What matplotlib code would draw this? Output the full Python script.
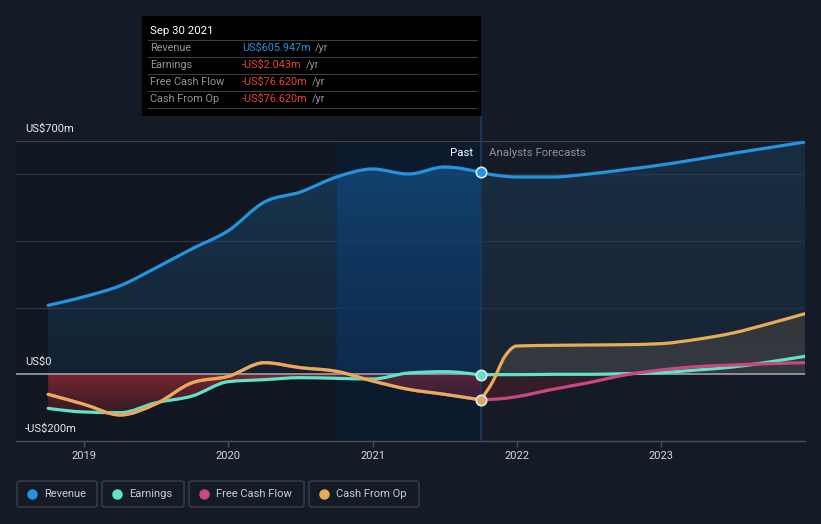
import numpy as np
import matplotlib.pyplot as plt
from matplotlib.patches import Rectangle, FancyBboxPatch, PathPatch
from matplotlib.path import Path
from matplotlib.colors import to_rgba

plt.rcParams['font.family'] = ['Roboto', 'DejaVu Sans']

# data (US$m, trailing twelve months)
past_x = [2018.75, 2019.0, 2019.25, 2019.5, 2019.75, 2020.0, 2020.25,
          2020.5, 2020.75, 2021.0, 2021.25, 2021.5, 2021.75]
revenue_past = [207, 233, 266, 320, 377, 431, 517, 547, 592, 616, 601, 622, 605.947]
earnings_past = [-102, -113, -115, -85, -65, -22, -16, -10, -12, -14, 4, 8, -2.043]
cfo_past = [-60, -90, -122, -88, -25, -6, 35, 20, 9, -20, -45, -60, -76.62]
fcf_past = [-60, -90, -122, -88, -25, -6, 35, 20, 9, -20, -45, -60, -76.62]

fc_x = [2021.75, 2021.83, 2021.92, 2022.0, 2022.25, 2022.5, 2022.75,
        2023.0, 2023.25, 2023.5, 2023.75, 2024.0]
revenue_fc = [605.947, 599, 594, 592, 592, 601, 614, 628, 645, 663, 680, 697]
earnings_fc = [-2.043, -1, -1, -1, 0, 0, 2, 5, 13, 22, 37, 54]
cfo_fc = [-76.62, -25, 55, 85, 87, 88, 89, 92, 105, 124, 152, 182]
fcf_fc = [-76.62, -75, -72, -67, -45, -25, -2, 13, 23, 28, 32, 35]

year_ticks = [2019, 2020, 2021, 2022, 2023]

BG = '#151b26'
C_REV = '#2394df'
C_EARN = '#5fe3c9'
C_FCF = '#c9487f'
C_CFO = '#e8ab58'

W, H = 821, 524
fig = plt.figure(figsize=(W / 100, H / 100), dpi=100, facecolor=BG)
ax = fig.add_axes([16 / W, 1 - 441 / H, (805 - 16) / W, 300 / H])
ax.set_facecolor(BG)


def curve(x, y):
    # monotone cubic curve through the points, drawn as bezier segments
    x = np.asarray(x, float)
    y = np.asarray(y, float)
    h = np.diff(x)
    d = np.diff(y) / h
    n = len(x)
    m = np.zeros(n)
    for i in range(1, n - 1):
        s0, s1 = d[i - 1], d[i]
        p = (s0 * h[i] + s1 * h[i - 1]) / (h[i - 1] + h[i])
        m[i] = (np.sign(s0) + np.sign(s1)) * min(abs(s0), abs(s1), 0.5 * abs(p))
    m[0] = (3 * d[0] - m[1]) / 2 if n > 2 else d[0]
    m[-1] = (3 * d[-1] - m[-2]) / 2 if n > 2 else d[-1]
    verts = [(x[0], y[0])]
    codes = [Path.MOVETO]
    for i in range(n - 1):
        t = h[i] / 3
        verts += [(x[i] + t, y[i] + m[i] * t), (x[i + 1] - t, y[i + 1] - m[i + 1] * t),
                  (x[i + 1], y[i + 1])]
        codes += [Path.CURVE4] * 3
    return verts, codes


def line(x, y, color, z):
    v, c = curve(x, y)
    ax.add_patch(PathPatch(Path(v, c), fc='none', ec=color, lw=2.3, zorder=z,
                           capstyle='round', joinstyle='round'))


def grad_fill(x, y, base, c_top, c_bot, a_top, a_bot, z):
    v, c = curve(x, y)
    v = v + [(x[-1], base), (x[0], base), (x[0], y[0])]
    c = c + [Path.LINETO, Path.LINETO, Path.CLOSEPOLY]
    patch = PathPatch(Path(v, c), transform=ax.transData, fc='none', ec='none')
    ax.add_patch(patch)
    lo, hi = min(min(y), base) - 20, max(max(y), base) + 20
    t = np.linspace(0, 1, 100)[:, None]
    ct, cb = np.array(to_rgba(c_top)), np.array(to_rgba(c_bot))
    img = cb + (ct - cb) * t
    img[:, 3] = a_bot + (a_top - a_bot) * t[:, 0]
    im = ax.imshow(img[:, None, :], extent=[min(x), max(x), lo, hi],
                   origin='lower', aspect='auto', zorder=z, interpolation='bilinear')
    im.set_clip_path(patch)


# past region darker, highlighted last year of past
ax.axvspan(2018.527, 2020.75, color='#0a0e13', alpha=0.3, lw=0, zorder=0)
ax.axvspan(2020.75, 2021.75, color='#0c1a2d', lw=0, zorder=0.5)

# grid
for g in [200, 400, 600]:
    ax.axhline(g, color='#2b3440', lw=1, zorder=1)
ax.axhline(700, color='#3a414c', lw=1, zorder=1)

# revenue fills
k = 8  # index of 2020.75
grad_fill(past_x[:k + 1], revenue_past[:k + 1], 0, '#1f5a8a', '#1a3c5e', 0.45, 0.3, 2)
grad_fill(past_x[k:], revenue_past[k:], 0, '#14497c', '#0f3560', 0.85, 0.6, 2)
grad_fill(fc_x, revenue_fc, 0, '#1d3d5a', '#1a3048', 0.55, 0.45, 2)

# negative fills (past)
neg_past = list(np.minimum(np.minimum(earnings_past, cfo_past), 0))
grad_fill(past_x[:k + 1], neg_past[:k + 1], 0, '#9a2c36', '#3a1c26', 0.85, 0.6, 3)
grad_fill(past_x[k:], neg_past[k:], 0, '#7a2c48', '#4a2238', 0.7, 0.6, 3)
# forecast fills
grad_fill(fc_x, list(np.maximum(cfo_fc, 0)), 0, '#3c3e3e', '#3e4044', 0.75, 0.75, 3)
grad_fill(fc_x, list(np.minimum(fcf_fc, 0)), 0, '#3a1e2a', '#3e1f2c', 0.8, 0.8, 3)

ax.axhline(0, color='#a9adb3', lw=1.1, zorder=4)

line(past_x, revenue_past, C_REV, 6)
line(fc_x, revenue_fc, C_REV, 6)
line(past_x, earnings_past, C_EARN, 5)
line(fc_x, earnings_fc, C_EARN, 5)
line(past_x, fcf_past, C_FCF, 5)
line(fc_x, fcf_fc, C_FCF, 5)
line(past_x, cfo_past, C_CFO, 5.5)
line(fc_x, cfo_fc, C_CFO, 5.5)

# markers at the last reported point
for val, col in [(revenue_past[-1], C_REV), (earnings_past[-1], C_EARN), (cfo_past[-1], '#d9a866')]:
    ax.plot([past_x[-1]], [val], 'o', ms=7.5, color=col, mec='#dbe6ef', mew=1.2, zorder=8)

ax.set_xlim(2018.527, 2024.0)
ax.set_ylim(-200, 700)

# divider line (extends up to the tooltip)
ax.plot([2021.75, 2021.75], [-200, 700 + 25 / 300 * 900], color='#1e3a5c', lw=1.2,
        zorder=7, clip_on=False)

ax.text(2021.75 - 8 / 144.2, 665, 'Past', color='white', fontsize=8.2, ha='right',
        va='center', zorder=9)
ax.text(2021.75 + 8 / 144.2, 665, 'Analysts Forecasts', color='#8b929b', fontsize=8.2,
        ha='left', va='center', zorder=9)

# axes styling
for s in ['top', 'right', 'left']:
    ax.spines[s].set_visible(False)
ax.spines['bottom'].set_color('#4a515c')
ax.spines['bottom'].set_linewidth(1)
ax.set_yticks([])
ax.set_xticks(year_ticks)
ax.set_xticklabels([str(y) for y in year_ticks])
ax.tick_params(axis='x', colors='#4a515c', length=4, width=1, labelcolor='#d5d8dc',
               labelsize=8, pad=3)

# y labels
fig.text(25 / W, 1 - 129 / H, 'US$700m', color='#e8eaed', fontsize=8, va='center')
fig.text(25 / W, 1 - 362 / H, 'US$0', color='#e8eaed', fontsize=8, va='center')
fig.text(25 / W, 1 - 429 / H, '-US$200m', color='#e8eaed', fontsize=8, va='center')

# tooltip
fig.patches.append(Rectangle((142 / W, 1 - 116 / H), (481 - 142) / W, 100 / H,
                             transform=fig.transFigure, fc='#000000', ec='none', zorder=10))
fig.text(150 / W, 1 - 31 / H, 'Sep 30 2021', color='white', fontsize=8.2, va='center', zorder=11)
rows = [('Revenue', 'US$605.947m', '#2394df'),
        ('Earnings', '-US$2.043m', '#e8413f'),
        ('Free Cash Flow', '-US$76.620m', '#e8413f'),
        ('Cash From Op', '-US$76.620m', '#e8413f')]
for i, (lab, val, col) in enumerate(rows):
    yy = 48 + 17 * i
    fig.text(150 / W, 1 - yy / H, lab, color='#8f949a', fontsize=7.8, va='center', zorder=11)
    t = fig.text(242 / W, 1 - yy / H, val, color=col, fontsize=7.8, va='center', zorder=11)
    fig.canvas.draw()
    bb = t.get_window_extent()
    fig.text(bb.x1 / W + 4 / W, 1 - yy / H, '/yr', color='#8f949a', fontsize=7.8,
             va='center', zorder=11)
for i in range(5):
    ly = 40 + 17 * i
    fig.add_artist(plt.Line2D([148 / W, 477 / W], [1 - ly / H, 1 - ly / H],
                              transform=fig.transFigure, color='#3a3d42', lw=0.8, zorder=11))

# legend
items = [('Revenue', C_REV, 17, 97), ('Earnings', C_EARN, 102, 184),
         ('Free Cash Flow', C_FCF, 189, 304), ('Cash From Op', C_CFO, 309, 419)]
for lab, col, x0, x1 in items:
    fig.patches.append(FancyBboxPatch((x0 / W, 1 - 507 / H), (x1 - x0) / W, 26 / H,
                                      boxstyle='round,pad=0,rounding_size=0.004',
                                      transform=fig.transFigure, fc='none',
                                      ec='#3b414b', lw=1))
    fig.add_artist(plt.Line2D([(x0 + 15) / W], [1 - 494 / H], marker='o', ms=6.5,
                              color=col, transform=fig.transFigure, lw=0))
    fig.text((x0 + 27) / W, 1 - 494 / H, lab, color='#c9cdd2', fontsize=8, va='center')

fig.savefig('out.png', dpi=100, facecolor=BG)
